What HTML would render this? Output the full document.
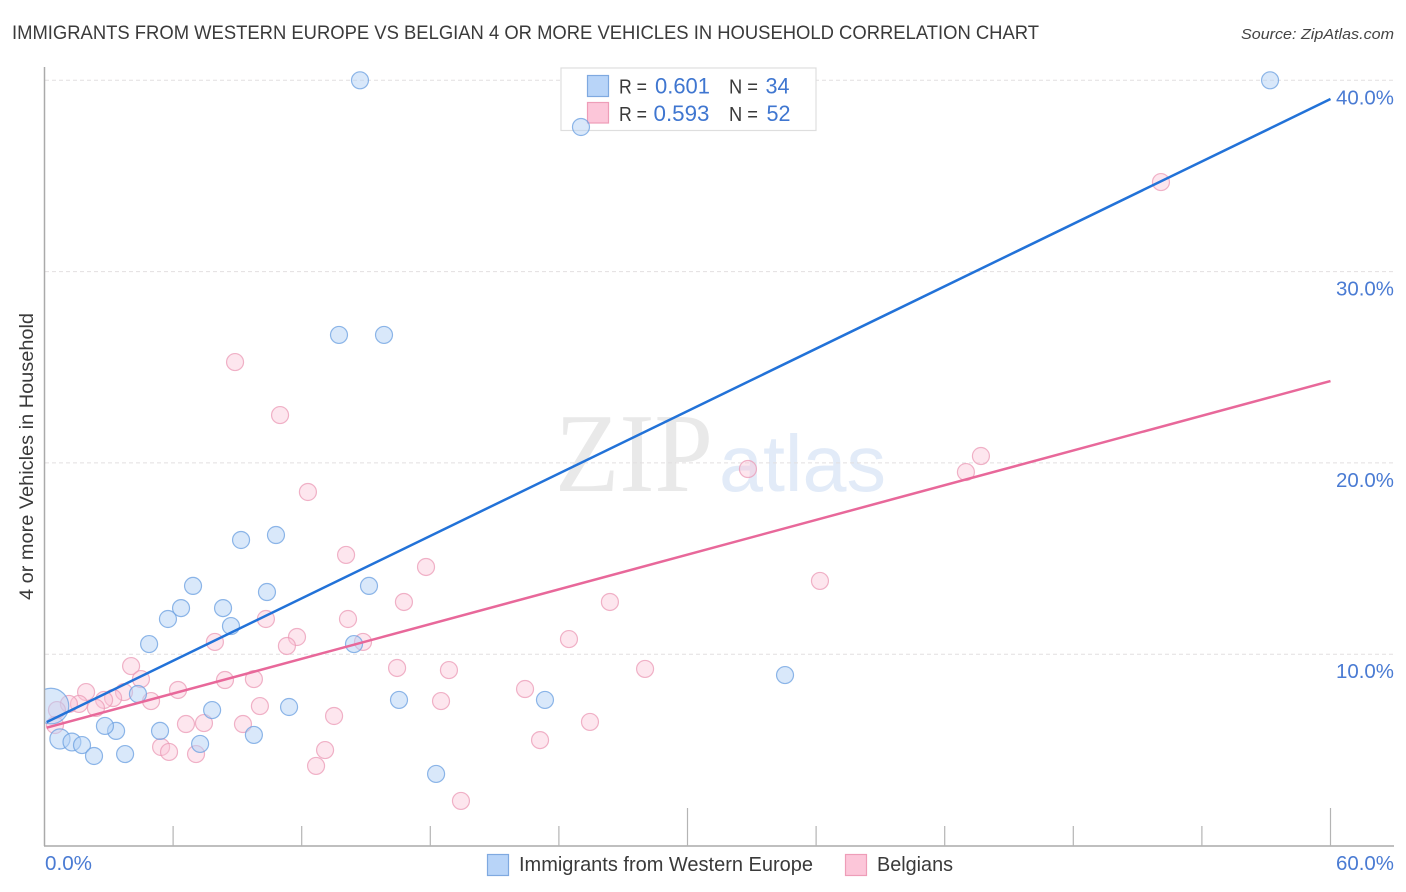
<!DOCTYPE html>
<html lang="en">
<head>
<meta charset="utf-8">
<title>Immigrants from Western Europe vs Belgian 4 or more Vehicles in Household Correlation Chart</title>
<style>
html,body{margin:0;padding:0;background:#fff;}
svg{display:block;font-family:"Liberation Sans",sans-serif;}
</style>
</head>
<body>
<svg id="chart" xmlns="http://www.w3.org/2000/svg" width="1406" height="892" viewBox="0 0 1406 892">
  <rect x="0" y="0" width="1406" height="892" fill="#ffffff"/>
  <text x="12" y="39" font-size="19.5" fill="#3a3a3a" textLength="1027" lengthAdjust="spacingAndGlyphs">IMMIGRANTS FROM WESTERN EUROPE VS BELGIAN 4 OR MORE VEHICLES IN HOUSEHOLD CORRELATION CHART</text>
  <text x="1394" y="39" font-size="15" font-style="italic" fill="#444444" text-anchor="end" textLength="153" lengthAdjust="spacingAndGlyphs">Source: ZipAtlas.com</text>
  <text x="555" y="491" font-family="'Liberation Serif',serif" font-size="112" fill="#e9e9e9" textLength="158" lengthAdjust="spacingAndGlyphs">ZIP</text>
  <text x="719" y="491" font-size="80" fill="#e2ebf8" textLength="167" lengthAdjust="spacingAndGlyphs">atlas</text>
  <g id="grid"></g>
  <g>
    <rect x="561" y="68" width="255" height="62.5" fill="#ffffff" stroke="#dedede" stroke-width="1.2"/>
    <rect x="587.5" y="75.5" width="21" height="21" fill="#b8d4f8" stroke="#7fa9e0" stroke-width="1.2"/>
    <rect x="587.5" y="102.5" width="21" height="20.5" fill="#fcc6d9" stroke="#ee9db8" stroke-width="1.2"/>
    <text x="619" y="93.5" font-size="20" fill="#3a3a3a" textLength="28" lengthAdjust="spacingAndGlyphs">R =</text>
    <text x="655" y="93.5" font-size="22" fill="#3f76d0" textLength="55" lengthAdjust="spacingAndGlyphs">0.601</text>
    <text x="729" y="93.5" font-size="20" fill="#3a3a3a" textLength="29" lengthAdjust="spacingAndGlyphs">N =</text>
    <text x="765.5" y="93.5" font-size="22" fill="#3f76d0" textLength="24" lengthAdjust="spacingAndGlyphs">34</text>
    <text x="619" y="121" font-size="20" fill="#3a3a3a" textLength="28" lengthAdjust="spacingAndGlyphs">R =</text>
    <text x="653.5" y="121" font-size="22" fill="#3f76d0" textLength="56" lengthAdjust="spacingAndGlyphs">0.593</text>
    <text x="729" y="121" font-size="20" fill="#3a3a3a" textLength="29" lengthAdjust="spacingAndGlyphs">N =</text>
    <text x="766.5" y="121" font-size="22" fill="#3f76d0" textLength="24" lengthAdjust="spacingAndGlyphs">52</text>
  </g>
  <g id="points-belgians"></g>
  <g id="points-immigrants"></g>
  <rect x="0" y="60" width="44.5" height="786" fill="#ffffff"/>
  <g id="axes"></g>
  <text transform="translate(33,456.5) rotate(-90)" font-size="19" fill="#3a3a3a" text-anchor="middle" textLength="287" lengthAdjust="spacingAndGlyphs">4 or more Vehicles in Household</text>
  <g id="trends"></g>
  <g>
    <rect x="487.5" y="854.5" width="21" height="21" fill="#b8d4f8" stroke="#7fa9e0" stroke-width="1.2"/>
    <text x="519" y="871" font-size="20" fill="#3a3a3a" textLength="294" lengthAdjust="spacingAndGlyphs">Immigrants from Western Europe</text>
    <rect x="845.5" y="854.5" width="21" height="21" fill="#fcc6d9" stroke="#ee9db8" stroke-width="1.2"/>
    <text x="877" y="871" font-size="20" fill="#3a3a3a" textLength="76" lengthAdjust="spacingAndGlyphs">Belgians</text>
  </g>
</svg>
<script>
const yTicks = [10, 20, 30, 40];
const yTickLabels = ["10.0%", "20.0%", "30.0%", "40.0%"];
const xTicks = [6, 12, 18, 24, 30, 36, 42, 48, 54, 60];
const xMajorTicks = [30, 60];
const xEndLabels = ["0.0%", "60.0%"];

const immigrantsX = [14.72,57.18,25.03,13.74,15.84,9.17,10.80,6.93,15.14,10.38,6.37,8.33,5.76,8.70,4.88,14.44,34.55,4.36,23.35,16.54,11.41,7.82,3.34,2.82,5.39,9.77,7.26,0.72,1.28,1.75,2.31,3.76,18.27,0.30];
const immigrantsY = [40.00,40.00,37.56,26.69,26.69,15.97,16.23,13.57,13.57,13.25,12.41,12.41,11.84,11.47,10.53,10.53,8.91,7.92,7.61,7.61,7.24,7.08,5.99,6.25,5.99,5.78,5.31,5.57,5.41,5.25,4.68,4.78,3.74,7.29];
const immigrantsWeight = [1,1,1,1,1,1,1,1,1,1,1,1,1,1,1,1,1,1,1,1,1,1,1,1,1,1,1,1.4,1.1,1,1,1,1,4.4];

const belgiansX = [52.09,8.89,10.99,12.29,32.82,43.69,42.99,14.07,17.80,36.18,16.77,26.38,10.33,14.16,11.78,24.47,7.95,11.31,14.86,4.04,16.45,18.87,28.02,4.50,8.42,9.77,6.23,1.94,22.42,3.71,3.20,2.78,1.61,1.14,4.97,18.50,10.05,2.40,13.51,6.60,7.44,9.26,25.45,0.58,0.49,23.12,5.44,5.81,7.07,13.09,12.67,19.43];
const belgiansY = [34.68,25.27,22.50,18.48,19.68,20.36,19.52,15.19,14.56,13.83,12.73,12.73,11.84,11.84,10.90,10.79,10.64,10.43,10.64,9.38,9.28,9.17,9.23,8.70,8.65,8.70,8.13,8.02,8.18,8.02,7.71,7.61,7.40,7.40,7.55,7.55,7.29,7.19,6.77,6.35,6.40,6.35,6.46,7.08,6.30,5.51,5.15,4.89,4.78,4.99,4.16,2.33];

const trendX = [0.10, 60];
const immigrantsTrend = [6.45, 39.02];
const belgiansTrend = [6.16, 24.28];

const NS = "http://www.w3.org/2000/svg";
const xScale = v => 44.5 + v * (1286 / 60);
const yScale = v => 845.5 - v * 19.13;

function make(tag, parentId, attrs, text) {
  const el = document.createElementNS(NS, tag);
  for (const k in attrs) el.setAttribute(k, attrs[k]);
  if (text) el.textContent = text;
  document.getElementById(parentId).appendChild(el);
  return el;
}

yTicks.forEach((v, i) => {
  const line = make("line", "grid", {x1: 45, x2: 1394, y1: yScale(v), y2: yScale(v), stroke: "#e2dfe0", "stroke-width": 1, "stroke-dasharray": "4 3"});
  
  
  const label = make("text", "axes", {x: 1394, y: yScale(v) + 24, "font-size": 20, fill: "#4a7bd3", "text-anchor": "end", textLength: 58, lengthAdjust: "spacingAndGlyphs"}, yTickLabels[i]);
  
  
});

const yAxis = make("line", "axes", {x1: 44.5, x2: 44.5, y1: 67, y2: 846, stroke: "#aaaaaa", "stroke-width": 1.5});



const xAxis = make("line", "axes", {x1: 44, x2: 1394, y1: 846, y2: 846, stroke: "#aaaaaa", "stroke-width": 1.5});



xTicks.forEach(v => {
  const top = xMajorTicks.includes(v) ? 808 : 826;
  const tick = make("line", "axes", {x1: xScale(v), x2: xScale(v), y1: top, y2: 846, stroke: "#b4b4b4", "stroke-width": 1.2});
  
  
});

const xLabelStart = make("text", "axes", {x: 45, y: 870, "font-size": 20, fill: "#4a7bd3", textLength: 47, lengthAdjust: "spacingAndGlyphs"}, xEndLabels[0]);



const xLabelEnd = make("text", "axes", {x: 1394, y: 870, "font-size": 20, fill: "#4a7bd3", "text-anchor": "end", textLength: 58, lengthAdjust: "spacingAndGlyphs"}, xEndLabels[1]);



belgiansX.forEach((v, i) => {
  const dot = make("circle", "points-belgians", {cx: xScale(v), cy: yScale(belgiansY[i]), r: 8.5, fill: "#fbc3d6", "fill-opacity": 0.42, stroke: "#eb9ab5", "stroke-opacity": 0.75, "stroke-width": 1.2});
  
  
});

immigrantsX.forEach((v, i) => {
  const dot = make("circle", "points-immigrants", {cx: xScale(v), cy: yScale(immigrantsY[i]), r: 8.5 * Math.sqrt(immigrantsWeight[i]), fill: "#b4d2f6", "fill-opacity": 0.5, stroke: "#6a9fe0", "stroke-opacity": 0.75, "stroke-width": 1.2});
  
  
});

const immigrantsLine = make("line", "trends", {x1: xScale(trendX[0]), y1: yScale(immigrantsTrend[0]), x2: xScale(trendX[1]), y2: yScale(immigrantsTrend[1]), stroke: "#2272d8", "stroke-width": 2.5});



const belgiansLine = make("line", "trends", {x1: xScale(trendX[0]), y1: yScale(belgiansTrend[0]), x2: xScale(trendX[1]), y2: yScale(belgiansTrend[1]), stroke: "#e8689a", "stroke-width": 2.5});


</script>
</body>
</html>
